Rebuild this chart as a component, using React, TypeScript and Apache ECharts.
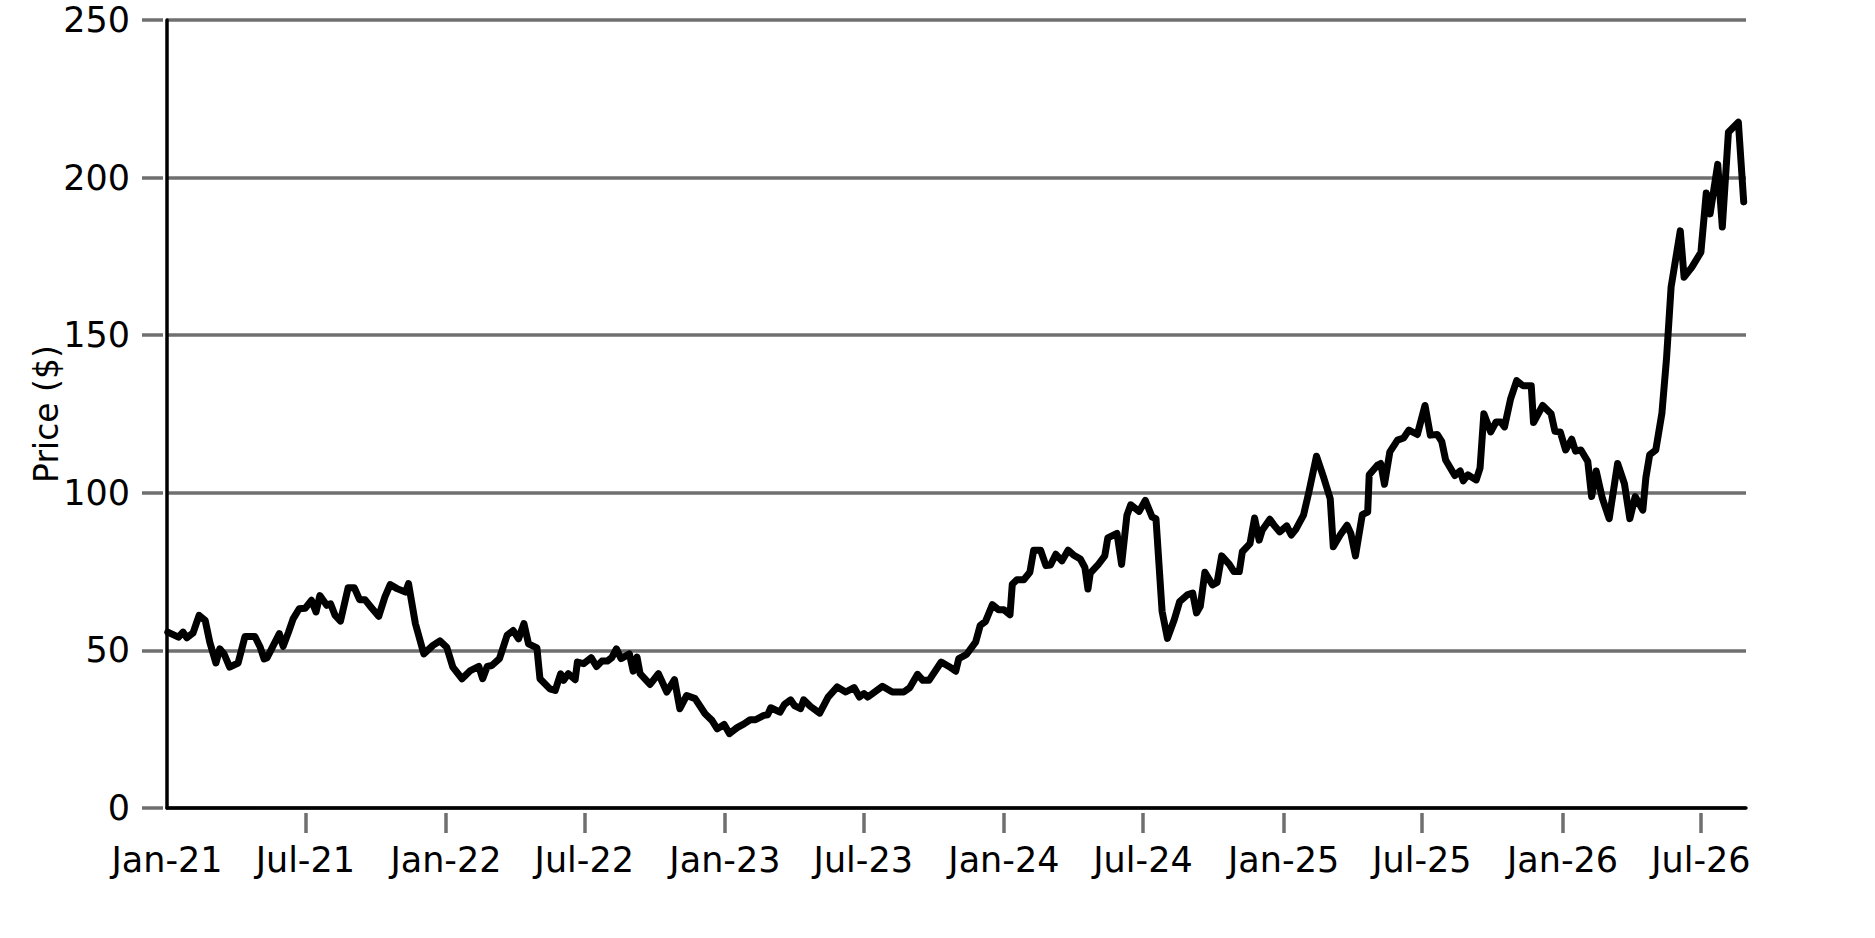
import React, { useEffect, useRef } from "react";
import * as echarts from "echarts";

// days since 2021-01-01
const dayOffsets = [
	1, 15, 21, 26, 34, 42, 50, 56, 64, 69, 75, 82, 93, 102, 115, 122, 127, 131, 147, 152,
	159, 165, 173, 181, 189, 195, 200, 209, 214, 220, 227, 237, 245, 252, 259, 267, 277, 285, 292, 301,
	312, 316, 325, 336, 348, 357, 366, 374, 386, 397, 408, 413, 419, 425, 435, 445, 453, 460, 467, 473,
	484, 488, 501, 508, 515, 519, 525, 534,
	537, 545, 555, 562, 569, 576, 582, 588, 594, 605, 610, 615, 619, 632, 643, 654, 664, 671, 680, 691,
	704, 713, 720, 729, 736, 746, 755, 763, 770, 781, 786, 790, 802, 808, 816, 821, 829, 833, 842, 854,
	865, 877, 888, 899, 906, 912, 917, 936, 949, 964, 972, 982, 989, 997, 1013, 1023, 1032, 1036, 1046, 1058,
	1064,
	1071, 1080, 1088, 1095, 1103, 1106, 1112, 1121, 1129, 1134, 1143, 1150, 1156, 1163, 1171, 1179, 1186, 1195, 1201, 1205,
	1208, 1218, 1227, 1231, 1243, 1249, 1256, 1261, 1272, 1280, 1289, 1294, 1302, 1309, 1318, 1325, 1335, 1342, 1347, 1352,
	1358, 1368, 1374, 1380, 1390, 1396, 1403, 1407, 1417, 1423, 1429, 1433, 1443, 1448, 1456, 1465, 1471, 1477, 1487, 1494,
	1504, 1514, 1522, 1526, 1535, 1544, 1549, 1555, 1564, 1571, 1573, 1584,
	1588, 1593, 1600, 1610, 1618, 1625, 1636, 1646, 1653, 1662, 1668, 1673, 1685, 1692, 1696, 1702, 1713, 1718, 1723, 1732,
	1739, 1745, 1750, 1758, 1766, 1774, 1785, 1788, 1800, 1811, 1816, 1823, 1830, 1838, 1843, 1850, 1859,
	1864, 1870, 1878, 1887, 1898, 1907, 1914, 1921, 1931, 1935, 1940, 1948, 1956, 1962,
	1968, 1980, 1985, 1995, 2007, 2014, 2019, 2029, 2035, 2043, 2056, 2063,
];

const prices = [
	55.8, 54.2, 55.8, 54.0, 55.5, 61.1, 59.5, 52.6, 46.0, 50.5, 48.7, 44.7, 46.0, 54.4, 54.4, 51.0, 47.3, 47.7, 55.3, 51.3,
	55.8, 60.0, 63.2, 63.4, 65.9, 62.2, 67.4, 64.3, 64.8, 61.1, 59.3, 69.9, 69.9, 66.1, 66.1, 63.7, 60.8, 66.9, 70.9, 69.6,
	68.5, 71.2, 58.5, 48.9, 51.6, 53.0, 51.0, 44.7, 41.0, 43.6, 44.9, 41.0, 44.9, 45.2, 47.4, 54.8, 56.3, 53.7, 58.5, 52.1,
	50.8, 41.0, 37.8, 37.3, 42.6, 40.5, 42.6, 40.7,
	46.3, 45.8, 47.7, 44.9, 46.6, 46.6, 47.7, 50.5, 47.4, 48.9, 43.4, 47.9, 42.6, 39.2, 42.6, 36.8, 40.7, 31.5, 35.7, 34.7,
	29.9, 27.8, 25.1, 26.5, 23.6, 25.5, 26.7, 28.0, 28.0, 29.4, 29.6, 31.8, 30.4, 32.9, 34.3, 32.5, 31.5, 34.3, 32.2, 30.1,
	35.2, 38.4, 36.8, 38.2, 35.2, 36.3, 35.2, 38.6, 36.8, 36.8, 38.2, 42.4, 40.5, 40.5, 46.3, 44.9, 43.4, 47.4, 48.7, 52.6,
	57.9,
	59.2, 64.5, 62.9, 62.9, 61.3, 71.0, 72.4, 72.4, 74.8, 81.8, 81.8, 76.9, 77.1, 80.5, 78.4, 81.8, 80.3, 79.0, 76.3, 69.5,
	74.5, 77.1, 80.0, 85.7, 87.1, 77.3, 92.9, 96.2, 94.1, 97.6, 92.3, 91.8, 62.4, 53.8, 59.8, 65.5, 67.6, 68.2, 61.9, 64.0,
	74.8, 70.8, 71.6, 80.0, 77.3, 75.0, 75.0, 81.3, 83.9, 92.0, 85.0, 88.1, 91.6, 89.9, 87.6, 89.5, 86.6, 88.4, 92.9, 100.2,
	111.6, 104.4, 98.1, 82.9, 86.6, 89.7, 87.1, 80.0, 93.1, 93.9, 105.7, 108.8,
	109.3, 102.7, 113.0, 116.7, 117.4, 119.9, 118.5, 127.7, 118.3, 118.5, 116.2, 110.4, 105.5, 106.9, 103.8, 105.7, 104.1, 107.8, 125.1, 119.3,
	122.5, 122.5, 120.9, 129.8, 135.6, 134.0, 134.0, 122.3, 127.7, 125.1, 119.5, 119.3, 113.6, 117.0, 113.2, 113.6, 109.9,
	98.8, 106.9, 98.3, 91.8, 109.3, 102.8, 91.8, 98.8, 94.5, 104.8, 112.1, 113.6, 125.3, 142.6,
	165.3, 183.1, 168.4, 171.5, 176.3, 195.1, 188.5, 204.2, 184.3, 214.4, 217.6, 192.3,
];

const xTickDates = [
	"2021-01-01", "2021-07-01", "2022-01-01", "2022-07-01", "2023-01-01", "2023-07-01",
	"2024-01-01", "2024-07-01", "2025-01-01", "2025-07-01", "2026-01-01", "2026-07-01",
];
const xTickLabels = [
	"Jan-21", "Jul-21", "Jan-22", "Jul-22", "Jan-23", "Jul-23",
	"Jan-24", "Jul-24", "Jan-25", "Jul-25", "Jan-26", "Jul-26",
];

const yMin = 0;
const yMax = 250;
const yStep = 50;
const yTitle = "Price ($)";

const START = Date.UTC(2021, 0, 1);
const DAY = 86400000;
const END_DAY = 2066;

const FONT = "DejaVu Sans";
const GRID_GREY = "#6f6f6f";

const App: React.FC = () => {
	const chartRef = useRef<HTMLDivElement>(null);

	useEffect(() => {
		if (!chartRef.current) return;
		const chart = echarts.init(chartRef.current, null, { renderer: "svg" });

		const tickTimes = xTickDates.map((d) => new Date(d + "T00:00:00Z").getTime());
		const labelByTime = new Map<number, string>();
		tickTimes.forEach((t, i) => labelByTime.set(t, xTickLabels[i]));
		const points = dayOffsets.map((d, i) => [START + d * DAY, prices[i]]);

		// dates are kept as timestamps on a value axis so the ticks can sit on Jan/Jul exactly
		const timeRange = { min: START, max: START + END_DAY * DAY };

		chart.setOption({
			animation: false,
			grid: { left: 167, right: 129, top: 20, bottom: 130, containLabel: false },
			xAxis: [
				{
					type: "value",
					...timeRange,
					axisLine: { show: true, onZero: false, lineStyle: { color: "#000", width: 3.5 } },
					axisTick: { show: false },
					axisLabel: { show: false },
					splitLine: { show: false },
				},
				{
					// ticks and labels sit a little below the axis line
					type: "value",
					...timeRange,
					position: "bottom",
					offset: 5,
					axisLine: { show: false, onZero: false },
					axisTick: {
						show: true,
						length: 20,
						customValues: tickTimes.slice(1),
						lineStyle: { color: GRID_GREY, width: 3.5 },
					},
					axisLabel: {
						show: true,
						customValues: tickTimes,
						margin: 29,
						color: "#000",
						fontFamily: FONT,
						fontSize: 35,
						formatter: (v: number) => labelByTime.get(v) ?? "",
					},
					splitLine: { show: false },
				},
			],
			yAxis: [
				{
					type: "value",
					min: yMin,
					max: yMax,
					interval: yStep,
					name: yTitle,
					nameLocation: "middle",
					nameRotate: 90,
					nameGap: 104,
					nameTextStyle: { color: "#000", fontFamily: FONT, fontSize: 33 },
					axisLine: { show: true, onZero: false, lineStyle: { color: "#000", width: 3.5 } },
					axisTick: { show: false },
					axisLabel: { show: false },
					splitLine: { show: true, lineStyle: { color: GRID_GREY, width: 3.5 } },
				},
				{
					type: "value",
					min: yMin,
					max: yMax,
					interval: yStep,
					position: "left",
					offset: 4,
					axisLine: { show: false, onZero: false },
					axisTick: { show: true, length: 21, lineStyle: { color: GRID_GREY, width: 3.5 } },
					axisLabel: {
						show: true,
						margin: 33,
						color: "#000",
						fontFamily: FONT,
						fontSize: 35,
					},
					splitLine: { show: false },
				},
			],
			series: [
				{
					type: "line",
					xAxisIndex: 0,
					yAxisIndex: 0,
					data: points,
					showSymbol: false,
					lineStyle: { color: "#000", width: 7, cap: "round", join: "round" },
					z: 5,
				},
			],
		});

		return () => chart.dispose();
	}, []);

	return (
		<div
			ref={chartRef}
			style={{ position: "fixed", left: 0, top: 0, width: 1875, height: 938, background: "#fff" }}
		/>
	);
};

export default App;
